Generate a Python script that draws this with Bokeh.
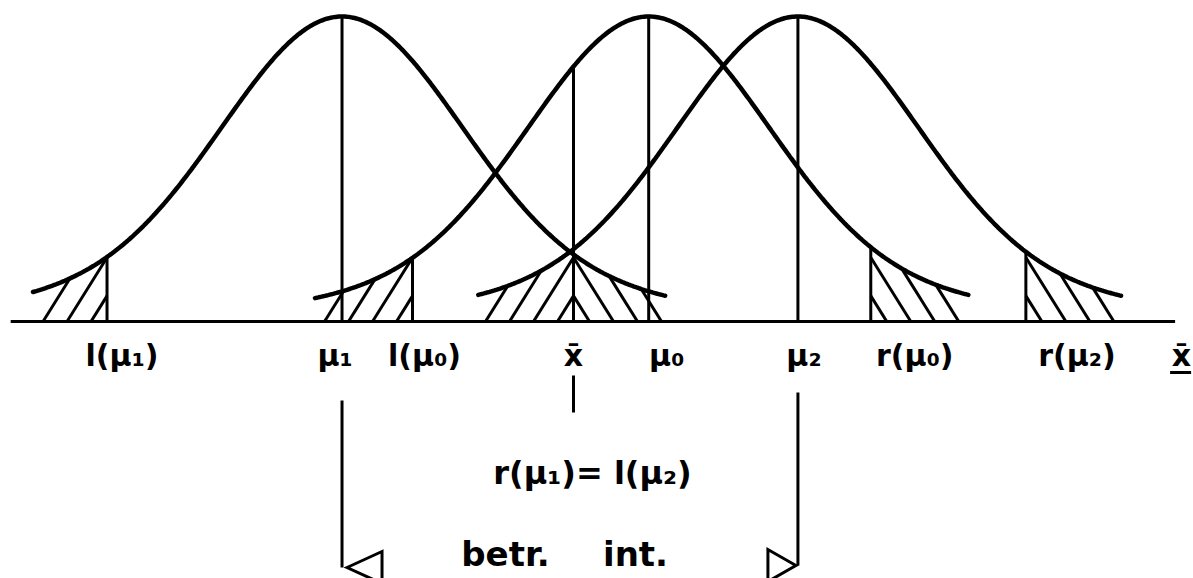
import numpy as np
from bokeh.plotting import figure
from bokeh.models import Range1d
from bokeh.embed import file_html
from bokeh.resources import INLINE
from bokeh.core.properties import value

W, H = 1193, 578
SX, SY = 117.5, 305.0        # pixels per unit along x and along the density axis
X0_PX, BASE_PX = 573, 321    # where x̄ and the baseline sit on the canvas

# positions on the x̄-axis (standard-deviation units, x̄ at 0)
xbar = 0.0
mu1, mu0, mu2 = -1.97, 0.64, 1.91
l_mu1, l_mu0 = -3.97, -1.37
r_mu0, r_mu2 = 2.53, 3.85

# the three sampling distributions and how far each is drawn
curve_means = [mu1, mu0, mu2]
curve_from = [-4.60, -2.20, -0.81]
curve_to = [0.78, 3.36, 4.66]
axis_extent = (-4.79, 5.12)

# bell profile: narrow core with slightly heavier shoulders, peak height 1
core_sd, shoulder_sd, shoulder_w = 1.0, 2.13, 0.15


def bell(x, m):
    d = np.asarray(x, dtype=float) - m
    return ((1 - shoulder_w) * np.exp(-0.5 * (d / core_sd) ** 2)
            + shoulder_w * np.exp(-0.5 * (d / shoulder_sd) ** 2))


def px_x(px):
    return px / SX


def px_y(px):
    return px / SY


p = figure(width=W, height=H, output_backend="svg", toolbar_location=None,
           x_axis_type=None, y_axis_type=None, min_border=0,
           x_range=Range1d(-X0_PX / SX, (W - X0_PX) / SX),
           y_range=Range1d(-(H - BASE_PX) / SY, BASE_PX / SY))
p.grid.visible = False
p.outline_line_color = None
p.background_fill_color = "white"
p.border_fill_color = "white"

INK = "#000000"

# baseline
p.line(list(axis_extent), [0, 0], line_width=3, color=INK)

# hatched rejection tails: (mean, from, to, direction)
tails = [
    (mu1, curve_from[0], l_mu1, "/"),
    (mu0, curve_from[1], l_mu0, "/"),
    (mu2, curve_from[2], xbar, "/"),
    (mu1, xbar, curve_to[0], "\\"),
    (mu0, r_mu0, curve_to[1], "\\"),
    (mu2, r_mu2, curve_to[2], "\\"),
]
slope = 1.6 * SX / SY
step, first, slack = px_x(24), px_x(16), px_x(6)
hx0, hy0, hx1, hy1 = [], [], [], []
for m, a, b, d in tails:
    if d == "/":
        x0 = b - first
        while x0 >= a - slack:
            xx = np.linspace(x0, b, 600)
            hit = np.nonzero(slope * (xx - x0) >= bell(xx, m))[0]
            xe = xx[hit[0]] if len(hit) else b
            hx0.append(x0); hy0.append(0.0)
            hx1.append(xe); hy1.append(slope * (xe - x0))
            x0 -= step
    else:
        x0 = a + first
        while x0 <= b + slack:
            xx = np.linspace(x0, a, 600)
            hit = np.nonzero(slope * (x0 - xx) >= bell(xx, m))[0]
            xe = xx[hit[0]] if len(hit) else a
            hx0.append(x0); hy0.append(0.0)
            hx1.append(xe); hy1.append(slope * (x0 - xe))
            x0 += step
p.segment(hx0, hy0, hx1, hy1, line_width=3, color=INK)

# vertical markers up to the relevant curve
verts = [(l_mu1, mu1), (mu1, mu1), (l_mu0, mu0), (xbar, mu0),
         (mu0, mu0), (mu2, mu2), (r_mu0, mu0), (r_mu2, mu2)]
vx = [v[0] for v in verts]
vtop = [float(bell(v[0], v[1])) for v in verts]
p.segment(vx, [0] * len(vx), vx, vtop, line_width=3, color=INK)

# the three bells
for m, a, b in zip(curve_means, curve_from, curve_to):
    xs = np.linspace(a, b, 400)
    p.line(xs, bell(xs, m), line_width=4.5, color=INK, line_cap="round")

# labels under the baseline
FONT = value("DejaVu Sans")
labels = ["l(μ₁)", "μ₁", "l(μ₀)", "x̄", "μ₀", "μ₂", "r(μ₀)", "r(μ₂)"]
label_x = [l_mu1, mu1, l_mu0, xbar, mu0, mu2, r_mu0, r_mu2]
label_dx = [15, -7, 12, 0, 18, 6, 44, 51]
row_y = -px_y(355 - BASE_PX)
p.text(x=label_x, y=[row_y] * len(labels), text=labels, x_offset=label_dx,
       text_align="center", text_baseline="alphabetic",
       text_font=FONT, text_font_size="30px", text_font_style="bold",
       text_color=INK)

# axis name x̄, underlined, at the right end of the canvas
p.text(x=[axis_extent[1]], y=[row_y], text=["x̄"], x_offset=[16],
       text_align="right", text_baseline="alphabetic",
       text_font=FONT, text_font_size="30px", text_font_style="bold",
       text_color=INK)
p.segment([axis_extent[1] - px_x(5)], [-px_y(372 - BASE_PX)],
          [axis_extent[1] + px_x(16)], [-px_y(372 - BASE_PX)],
          line_width=3, color=INK)

# tick under x̄ and the boundary equation
p.segment([xbar], [-px_y(375 - BASE_PX)], [xbar], [-px_y(412 - BASE_PX)],
          line_width=3, color=INK)
p.text(x=[xbar], y=[-px_y(472 - BASE_PX)], text=["r(μ₁)= l(μ₂)"], x_offset=[19],
       text_align="center", text_baseline="alphabetic",
       text_font=FONT, text_font_size="32px", text_font_style="bold",
       text_color=INK)

# confidence-interval bracket from μ1 to μ2
p.segment([mu1, mu2], [-px_y(400 - BASE_PX), -px_y(392 - BASE_PX)],
          [mu1, mu2], [-px_y(567 - BASE_PX), -px_y(565 - BASE_PX)],
          line_width=3, color=INK)
tri_xs = [
    [mu1 + px_x(5), mu1 + px_x(40), mu1 + px_x(40)],
    [mu2 - px_x(2), mu2 - px_x(30), mu2 - px_x(30)],
]
tri_ys = [
    [-px_y(567 - BASE_PX), -px_y(551 - BASE_PX), -px_y(583 - BASE_PX)],
    [-px_y(565 - BASE_PX), -px_y(549 - BASE_PX), -px_y(581 - BASE_PX)],
]
p.patches(tri_xs, tri_ys, fill_color="white", line_color=INK, line_width=3,
          line_join="miter")
p.text(x=[xbar, xbar], y=[-px_y(553 - BASE_PX)] * 2, text=["betr.", "int."],
       x_offset=[-68, 62], text_align="center", text_baseline="middle",
       text_font=FONT, text_font_size="34px", text_font_style="bold",
       text_color=INK)

open("out.html", "w").write(file_html(p, INLINE))
